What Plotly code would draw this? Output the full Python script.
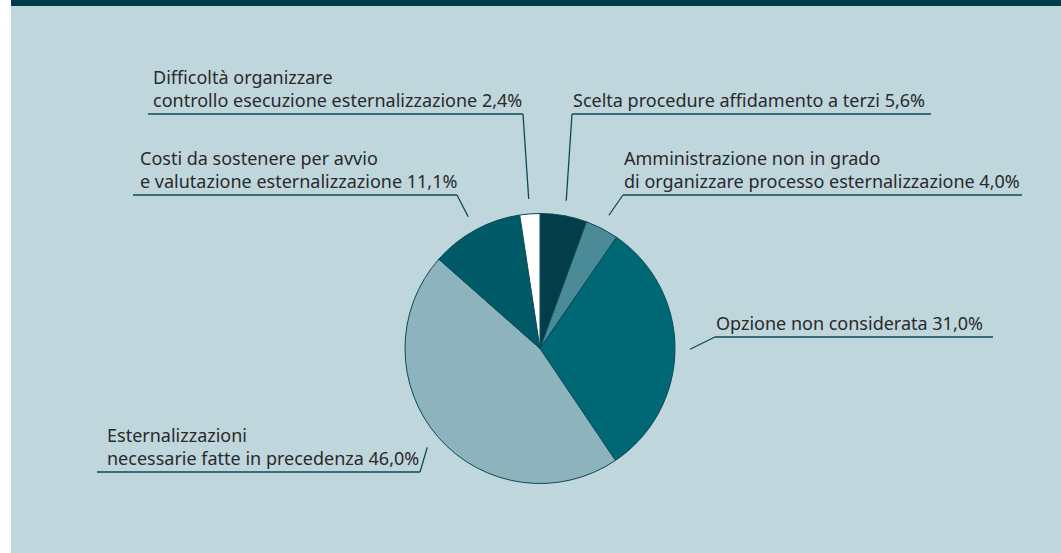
import math
import plotly.graph_objects as go

# ---- data ----
labels = [
    "Scelta procedure affidamento a terzi",
    "Amministrazione non in grado<br>di organizzare processo esternalizzazione",
    "Opzione non considerata",
    "Esternalizzazioni<br>necessarie fatte in precedenza",
    "Costi da sostenere per avvio<br>e valutazione esternalizzazione",
    "Difficoltà organizzare<br>controllo esecuzione esternalizzazione",
]
values = [5.6, 4.0, 31.0, 46.0, 11.1, 2.4]
colors = ["#033d49", "#4b8b98", "#006875", "#8db4bc", "#005a67", "#ffffff"]

# ---- layout / style constants (pixels) ----
W, H = 1061, 553
CX, CY, R = 540, 348.5, 135
ANCHOR_R = 150
# per label: text left x, underline y, underline x0, x1, elbow side ("l" or "r")
label_pos = [
    (572, 114, 572, 931, "l"),
    (623, 195, 623, 1022, "l"),
    (715, 337, 715, 993, "l"),
    (106, 472, 97, 420, "r"),
    (139, 195, 133, 457, "r"),
    (152, 114, 148, 523, "r"),
]
LINE_COLOR = "#0b4a56"
FONT = dict(family="Noto Sans, Open Sans, sans-serif", size=18, color="#2a2a2a")

fmt = lambda v: f"{v:.1f}".replace(".", ",") + "%"

fig = go.Figure()
fig.add_trace(go.Pie(
    labels=labels, values=values, sort=False, direction="clockwise", rotation=0,
    marker=dict(colors=colors, line=dict(color=LINE_COLOR, width=1)),
    textinfo="none", hoverinfo="label+percent", showlegend=False,
    domain=dict(x=[(CX - R) / W, (CX + R) / W], y=[1 - (CY + R) / H, 1 - (CY - R) / H]),
))

shapes = [
    dict(type="rect", xref="x", yref="y", x0=0, x1=11, y0=0, y1=H, fillcolor="white", line=dict(width=0), layer="above"),
    dict(type="rect", xref="x", yref="y", x0=11, x1=W, y0=0, y1=6, fillcolor="#013c49", line=dict(width=0), layer="above"),
]
annotations = []
total = sum(values)
cum = 0.0
for lab, v, (tx, uy, ux0, ux1, side) in zip(labels, values, label_pos):
    mid = (cum + v / 2) / total * 2 * math.pi
    cum += v
    ax = CX + ANCHOR_R * math.sin(mid)
    ay = CY - ANCHOR_R * math.cos(mid)
    ex = ux0 if side == "l" else ux1
    shapes.append(dict(type="line", xref="x", yref="y", x0=ux0, x1=ux1, y0=uy, y1=uy,
                       line=dict(color=LINE_COLOR, width=1.3), layer="above"))
    shapes.append(dict(type="line", xref="x", yref="y", x0=ex, x1=ax, y0=uy, y1=ay,
                       line=dict(color=LINE_COLOR, width=1.3), layer="above"))
    annotations.append(dict(x=tx, y=uy - 1, xref="x", yref="y", xanchor="left", yanchor="bottom",
                            text=f"{lab} {fmt(v)}", showarrow=False, align="left", font=FONT,
                            borderpad=0))

fig.update_layout(
    width=W, height=H, margin=dict(l=0, r=0, t=0, b=0),
    paper_bgcolor="#bfd6dc", plot_bgcolor="rgba(0,0,0,0)",
    xaxis=dict(range=[0, W], visible=False, fixedrange=True),
    yaxis=dict(range=[H, 0], visible=False, fixedrange=True),
    shapes=shapes, annotations=annotations,
)
fig.write_html("out.html", config={"displayModeBar": False},
               post_script="document.body.style.margin='0';document.body.style.padding='0';document.body.style.overflow='hidden';")
